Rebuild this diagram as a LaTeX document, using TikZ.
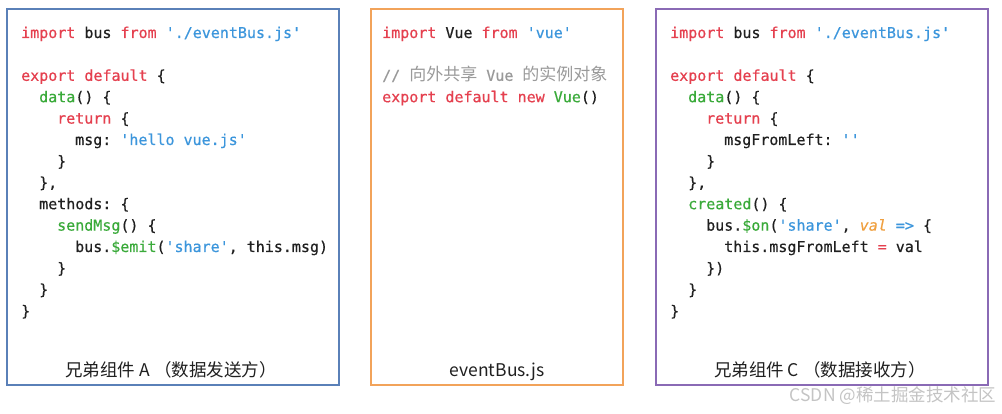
\documentclass[tikz,border=0pt]{standalone}
\usepackage{fontspec}
\setmonofont[FakeBold=0.5]{DejaVu Sans Mono}
\newfontfamily\cjk{Noto Sans CJK SC}
\definecolor{kwc}{HTML}{E5404F}
\definecolor{fnc}{HTML}{3AAA3A}
\definecolor{strc}{HTML}{3C96DC}
\definecolor{valc}{HTML}{F0A040}
\definecolor{cmc}{HTML}{9A9A9A}
\definecolor{txc}{HTML}{202020}
\definecolor{boxa}{HTML}{5A80B8}
\definecolor{boxb}{HTML}{F2A35A}
\definecolor{boxc}{HTML}{8A6AB5}
\definecolor{wmc}{HTML}{C4C4C4}
\newcommand\kw[1]{\textcolor{kwc}{#1}}
\newcommand\fn[1]{\textcolor{fnc}{#1}}
\newcommand\str[1]{\textcolor{strc}{#1}}
\newcommand\vv[1]{\textcolor{valc}{\itshape #1}}
\newcommand\cm[1]{\textcolor{cmc}{#1}}
\newcommand\cjkc[1]{{\cjk\fontsize{17}{21}\selectfont #1}}
\tikzset{
  panel/.style={draw=#1, line width=2.4pt, fill=white},
  codeline/.style={anchor=base west, inner sep=0pt, text=txc,
    font=\ttfamily\fontsize{15}{21}\selectfont},
  caption/.style={anchor=base, inner sep=0pt, text=txc,
    font=\cjk\fontsize{17.5}{21}\selectfont},
  watermark/.style={anchor=center, inner sep=0pt, text=wmc,
    font=\cjk\fontsize{17.5}{22}\selectfont}
}
\begin{document}
\begin{tikzpicture}[x=1pt,y=-1pt]
\useasboundingbox (0,0) rectangle (1002,414);
\fill[white] (0,0) rectangle (1002,414);
% panels
\draw[panel=boxa] (7,9) rectangle (339,385);
\draw[panel=boxb] (371,9) rectangle (623,385);
\draw[panel=boxc] (656,9) rectangle (988,385);
% ---- box A
\node[codeline] (a1) at (21,38) {\kw{import} bus \kw{from} \str{'./eventBus.js'}};
\node[codeline] (a3) at (21,80.8) {\kw{export default} \{};
\node[codeline] (a4) at (39,102.2) {\fn{data}() \{};
\node[codeline] (a5) at (57,123.6) {\kw{return} \{};
\node[codeline] (a6) at (75,145) {msg: \str{'hello vue.js'}};
\node[codeline] (a7) at (57,166.4) {\}};
\node[codeline] (a8) at (39,187.8) {\},};
\node[codeline] (a9) at (39,209.2) {methods: \{};
\node[codeline] (a10) at (57,230.6) {\fn{sendMsg}() \{};
\node[codeline] (a11) at (75,252) {bus.\fn{\$emit}(\str{'share'}, this.msg)};
\node[codeline] (a12) at (57,273.4) {\}};
\node[codeline] (a13) at (39,294.8) {\}};
\node[codeline] (a14) at (21,316.2) {\}};
\node[caption] (capa) at (171,376) {兄弟组件 A\hspace{0.25em}（数据发送方）};
% ---- box B
\node[codeline] (b1) at (382,38) {\kw{import} Vue \kw{from} \str{'vue'}};
\node[codeline] (b3) at (382,80.8) {\cm{// \cjkc{向外共享} Vue \cjkc{的实例对象}}};
\node[codeline] (b4) at (382,102.2) {\kw{export default new} \fn{Vue}()};
\node[caption] (capb) at (497,376) {eventBus.js};
% ---- box C
\node[codeline] (c1) at (670,38) {\kw{import} bus \kw{from} \str{'./eventBus.js'}};
\node[codeline] (c3) at (670,80.8) {\kw{export default} \{};
\node[codeline] (c4) at (688,102.2) {\fn{data}() \{};
\node[codeline] (c5) at (706,123.6) {\kw{return} \{};
\node[codeline] (c6) at (724,145) {msgFromLeft: \str{''}};
\node[codeline] (c7) at (706,166.4) {\}};
\node[codeline] (c8) at (688,187.8) {\},};
\node[codeline] (c9) at (688,209.2) {\fn{created}() \{};
\node[codeline] (c10) at (706,230.6) {bus.\fn{\$on}(\str{'share'}, \vv{val} \str{=>} \{};
\node[codeline] (c11) at (724,252) {this.msgFromLeft \kw{=} val};
\node[codeline] (c12) at (706,273.4) {\})};
\node[codeline] (c13) at (688,294.8) {\}};
\node[codeline] (c14) at (670,316.2) {\}};
\node[caption] (capc) at (820,376) {兄弟组件 C\hspace{0.25em}（数据接收方）};
% watermark
\node[watermark] (wm) at (893,396) {CSDN @稀土掘金技术社区};
\end{tikzpicture}
\end{document}
